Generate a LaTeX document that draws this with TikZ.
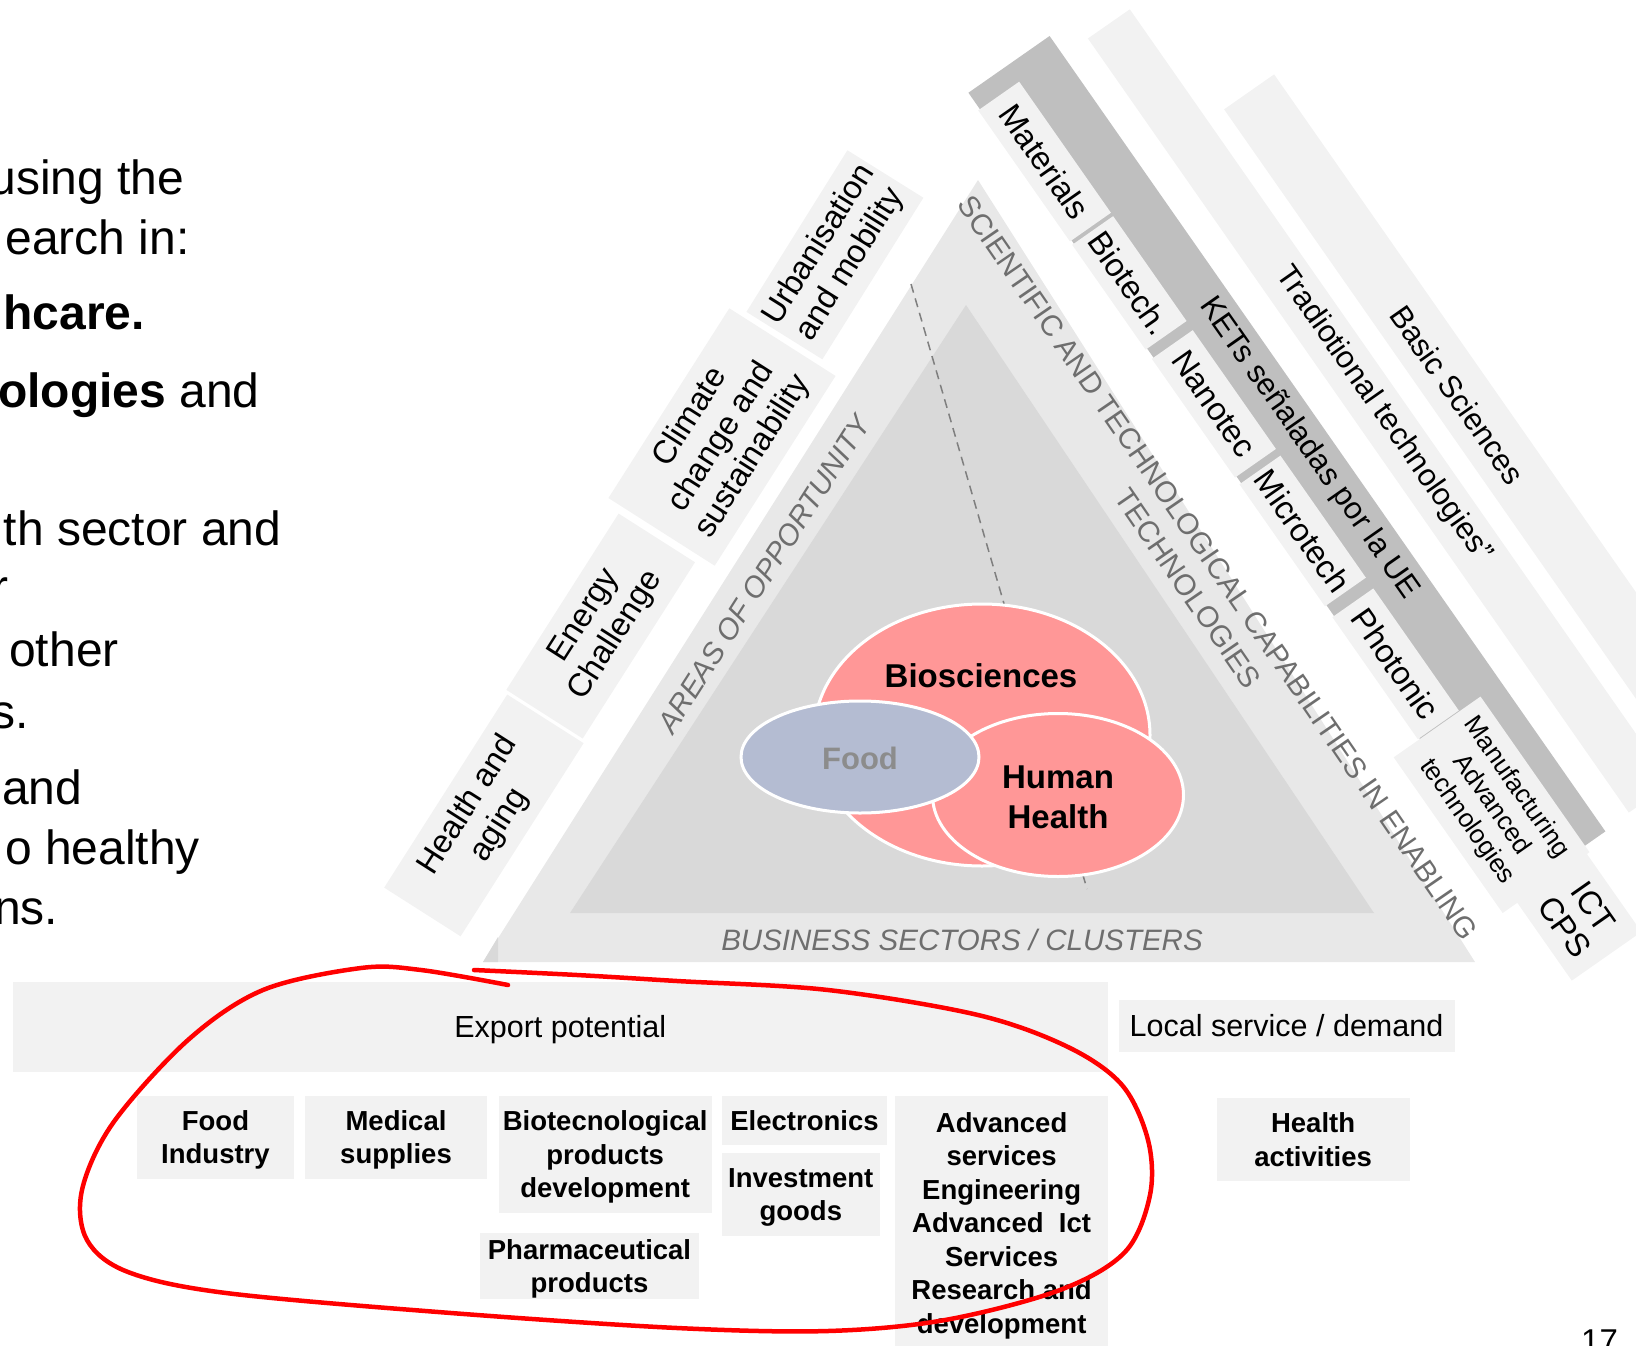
\documentclass[tikz,border=0pt]{standalone}
\usepackage{fontspec}
\setmainfont{Liberation Sans}
\usetikzlibrary{shapes.geometric}
\definecolor{boxgray}{HTML}{F2F2F2}
\definecolor{bandgray}{HTML}{E8E8E8}
\definecolor{coregray}{HTML}{D9D9D9}
\definecolor{stripgray}{HTML}{BFBFBF}
\definecolor{labgray}{HTML}{6E6E6E}
\definecolor{pinkfill}{HTML}{FF9797}
\definecolor{foodfill}{HTML}{B4BCD2}
\definecolor{foodtext}{HTML}{8C8C8C}
\definecolor{dashcol}{HTML}{7F7F7F}
\definecolor{loopred}{HTML}{FF0000}
\begin{document}
\begin{tikzpicture}[x=1pt,y=-1pt,
  lefttext/.style={anchor=base east, inner sep=0pt, font=\fontsize{48}{58}\selectfont},
  lbox/.style={fill=boxgray, inner sep=0pt, align=center, rotate=57.5, font=\fontsize{32.5}{37}\selectfont},
  tbox/.style={fill=boxgray, inner sep=0pt, align=center, rotate=-55, minimum height=50pt, font=\fontsize{32.5}{37}\selectfont},
  striptext/.style={inner sep=0pt, rotate=-55, font=\fontsize{31}{36}\selectfont},
  bandtext/.style={inner sep=0pt, text=labgray, align=center, font=\fontsize{29.5}{36.5}\selectfont},
  bandital/.style={inner sep=0pt, text=labgray, font=\itshape\fontsize{29.5}{36.5}\selectfont},
  bbox/.style={fill=boxgray, inner sep=0pt, align=center, text depth=0pt, font=\bfseries\fontsize{27.5}{33.5}\selectfont},
  pbox/.style={fill=boxgray, inner sep=0pt, align=center, text depth=0pt, font=\fontsize{30.5}{35}\selectfont},
  blob/.style={ellipse, draw=white, line width=3pt, inner sep=0pt},
  blobtext/.style={inner sep=0pt, align=center, font=\bfseries\fontsize{33}{40}\selectfont}
]
\useasboundingbox (0,0) rectangle (1636,1346);
\begin{scope}
\clip (0,0) rectangle (1636,1346);

% ---- left running text (cut at the page edge)
\node[lefttext] (l1) at (184.6,194) {using the};
\node[lefttext] (l2) at (189.8,254.4) {earch in:};
\node[lefttext] (l3) at (145,329.5) {\textbf{hcare.}};
\node[lefttext] (l4) at (259.7,407.8) {\textbf{ologies} and};
\node[lefttext] (l5) at (281.6,545.5) {th sector and};
\node[lefttext] (l6) at (8.3,603) {r};
\node[lefttext] (l7) at (118.9,666.5) {other};
\node[lefttext] (l8) at (29.2,728) {s.};
\node[lefttext] (l9) at (82.4,804.3) {and};
\node[lefttext] (l10) at (200.2,864.8) {o healthy};
\node[lefttext] (l11) at (58.4,924.3) {ns.};

% ---- triangle
\fill[bandgray] (978,180) -- (483,962) -- (1475,962) -- cycle;
\fill[coregray] (483,962) -- (498,937) -- (498,962) -- cycle;
\fill[coregray] (966,305) -- (570,913) -- (1374,913) -- cycle;

\coordinate (dtop) at (911,284);
\coordinate (dbot) at (1087,889);
\draw[dashcol, line width=1.5pt, dash pattern=on 9pt off 6pt] (dtop) -- (dbot);

\node[blob, fill=pinkfill, minimum width=336pt, minimum height=262pt] (bio) at (982,735) {};
\node[blob, fill=pinkfill, minimum width=251pt, minimum height=163pt] (hh) at (1058,795) {};
\node[blob, fill=foodfill, minimum width=238pt, minimum height=112pt] (food) at (860,757) {};
\node[blobtext] (biot) at (981,676) {Biosciences};
\node[blobtext] (hht) at (1058,797) {Human\\Health};
\node[blobtext, text=foodtext, font=\bfseries\fontsize{31}{37}\selectfont] (foodt) at (860,758.5) {Food};

\node[bandital, rotate=57.5] (areas) at (764,574) {AREAS OF OPPORTUNITY};
\node[bandital] (business) at (962,940) {BUSINESS SECTORS / CLUSTERS};
\node[bandtext, rotate=-55.5] (scient) at (1203,578) {SCIENTIFIC AND TECHNOLOGICAL CAPABILITIES IN ENABLING\\TECHNOLOGIES};

% ---- left challenge boxes
\node[lbox, minimum width=229pt, minimum height=90.6pt] (health) at (483.9,815.4) {Health and\\aging};
\node[lbox, minimum width=209pt, minimum height=90.6pt] (energy) at (600.65,626.05) {Energy\\Challenge};
\node[lbox, minimum width=225pt, minimum height=126pt] (climate) at (722,437) {Climate\\change and\\sustainability};
\node[lbox, rotate=0.5, minimum width=190.6pt, minimum height=89.6pt] (urban) at (834.9,254.8) {Urbanisation\\and mobility};

% ---- right strips
\fill[stripgray] (968.4,92.75) -- (1049.6,36) -- (1605.4,831.4) -- (1524.2,888.2) -- cycle;
\fill[boxgray] (1087.9,38.5) -- (1129.8,9.3) -- (1670.7,783.4) -- (1628.8,812.6) -- cycle;
\fill[boxgray] (1224.1,109.35) -- (1274.1,74.4) -- (1927.3,1009.2) -- (1877.3,1044.15) -- cycle;
\node[striptext] (kets) at (1308.9,448.6) {KETs señaladas por la UE};
\node[striptext] (trad) at (1383.2,414.5) {Tradiotional technologies”};
\node[striptext] (basic) at (1457.5,394.8) {Basic Sciences};

\node[tbox, minimum width=160pt] (mat) at (1044.56,161.57) {Materials};
\node[tbox, minimum width=128pt] (biotech) at (1129.36,282.93) {Biotech.};
\node[tbox, minimum width=145pt] (nano) at (1213.86,403.87) {Nanotec};
\node[tbox, minimum width=149pt] (micro) at (1302.66,530.97) {Microtech};
\node[tbox, minimum width=149pt] (photo) at (1395.56,663.82) {Photonic};
\node[tbox, minimum width=190pt, minimum height=106pt, font=\fontsize{26}{30}\selectfont] (manu) at (1491.58,804.78) {Manufacturing\\Advanced\\technologies};
\node[tbox, minimum width=96pt, minimum height=85pt, font=\fontsize{32.5}{35}\selectfont] (ict) at (1579.07,916.92) {ICT\\CPS};

% ---- bottom boxes
\node[pbox, minimum width=1095.5pt, minimum height=89.7pt] (export) at (560.25,1026.65) {Export potential};
\node[pbox, minimum width=336pt, minimum height=52.1pt] (local) at (1286.5,1025.65) {Local service / demand};
\node[bbox, minimum width=157.5pt, minimum height=83.5pt] (foodind) at (215.45,1137.25) {Food\\Industry};
\node[bbox, minimum width=182.6pt, minimum height=83.5pt] (medical) at (396,1137.25) {Medical\\supplies};
\node[bbox, minimum width=212.9pt, minimum height=117.9pt] (biotec) at (605.15,1154.45) {Biotecnological\\products\\development};
\node[bbox, minimum width=164.9pt, minimum height=49.1pt] (electr) at (804.45,1120.05) {Electronics};
\node[bbox, minimum width=157.6pt, minimum height=83.5pt] (invest) at (800.8,1194.65) {Investment\\goods};
\node[bbox, minimum width=212.8pt, minimum height=254.5pt] (advanced) at (1001.6,1222.75) {Advanced\\services\\Engineering\\Advanced\ \ Ict\\Services\\Research and\\development};
\node[bbox, minimum width=219pt, minimum height=65.7pt] (pharma) at (589.5,1266.15) {Pharmaceutical\\products};
\node[bbox, minimum width=193pt, minimum height=83.4pt] (healthact) at (1313.1,1139.3) {Health\\activities};

\node[anchor=base west, inner sep=0pt, font=\fontsize{33}{38}\selectfont] (pagenum) at (1581,1352) {17};

% ---- red hand-drawn loop
\draw[loopred, line width=4.5pt, line cap=round] plot[smooth, tension=0.55] coordinates {
 (474,970) (577,975) (677,981) (828,990) (978,1015) (1068,1047) (1122,1085)
 (1148,1140) (1150,1195) (1125,1252) (1060,1290) (945,1320) (828,1331)
 (677,1328) (451,1313) (226,1293) (128,1272) (87,1240) (82,1190) (113,1123)
 (188,1040) (263,990) (361,968) (421,970) (508,985)};
\end{scope}
\end{tikzpicture}
\end{document}
